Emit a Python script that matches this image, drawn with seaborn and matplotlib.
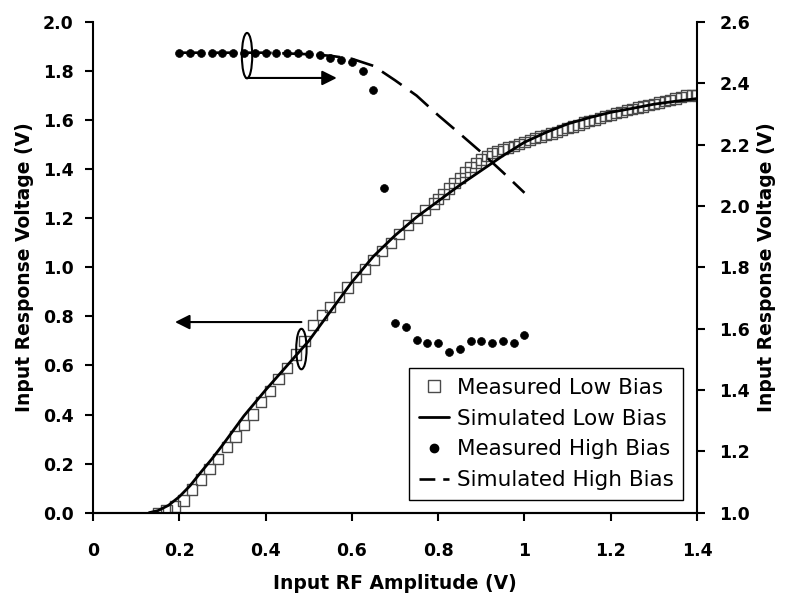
import matplotlib
matplotlib.use("Agg")
import matplotlib.pyplot as plt
from matplotlib.patches import Ellipse
from matplotlib.lines import Line2D
import seaborn as sns
import pandas as pd

# ---------------- data ----------------
meas_low_x = [0.15, 0.17, 0.19, 0.21, 0.23, 0.25, 0.27, 0.29, 0.31, 0.33,
              0.35, 0.37, 0.39, 0.41, 0.43, 0.45, 0.47, 0.49, 0.51, 0.53,
              0.55, 0.57, 0.59, 0.61, 0.63, 0.65, 0.67, 0.69, 0.71, 0.73,
              0.75, 0.77, 0.79, 0.80, 0.8125, 0.825, 0.8375, 0.85, 0.8625,
              0.875, 0.8875, 0.90, 0.9125, 0.925, 0.9375, 0.95, 0.9625, 0.975,
              0.9875, 1.00, 1.0125, 1.025, 1.0375, 1.05, 1.0625, 1.075, 1.0875,
              1.10, 1.1125, 1.125, 1.1375, 1.15, 1.1625, 1.175, 1.1875, 1.20,
              1.2125, 1.225, 1.2375, 1.25, 1.2625, 1.275, 1.2875, 1.30, 1.3125,
              1.325, 1.3375, 1.35, 1.3625, 1.375, 1.3875, 1.40]
meas_low_y = [0.000, 0.010, 0.025, 0.050, 0.095, 0.135, 0.178, 0.218, 0.268, 0.310,
              0.358, 0.400, 0.450, 0.495, 0.545, 0.590, 0.645, 0.700, 0.765, 0.806,
              0.838, 0.878, 0.918, 0.960, 0.993, 1.030, 1.066, 1.100, 1.137, 1.172,
              1.200, 1.233, 1.260, 1.280, 1.300, 1.322, 1.345, 1.365, 1.390,
              1.410, 1.425, 1.440, 1.455, 1.467, 1.475, 1.482, 1.488, 1.496,
              1.504, 1.512, 1.520, 1.527, 1.533, 1.539, 1.546, 1.553, 1.560,
              1.567, 1.574, 1.580, 1.590, 1.596, 1.602, 1.610, 1.617, 1.622,
              1.628, 1.634, 1.640, 1.645, 1.651, 1.656, 1.662, 1.667, 1.672,
              1.678, 1.683, 1.688, 1.694, 1.700, 1.703, 1.700]

sim_low_x = [0.13, 0.15, 0.175, 0.20, 0.225, 0.25, 0.275, 0.30, 0.35, 0.40,
             0.45, 0.50, 0.55, 0.60, 0.65, 0.70, 0.75, 0.80, 0.85, 0.90,
             0.95, 1.00, 1.05, 1.10, 1.15, 1.20, 1.25, 1.30, 1.35, 1.40]
sim_low_y = [0.000, 0.008, 0.030, 0.065, 0.110, 0.165, 0.218, 0.275, 0.395, 0.500,
             0.600, 0.700, 0.820, 0.940, 1.045, 1.130, 1.205, 1.270, 1.335, 1.395,
             1.455, 1.510, 1.550, 1.585, 1.610, 1.632, 1.648, 1.665, 1.677, 1.688]

meas_high_x = [0.20, 0.225, 0.25, 0.275, 0.30, 0.325, 0.35, 0.375, 0.40, 0.425,
               0.45, 0.475, 0.50, 0.525, 0.55, 0.575, 0.60, 0.625, 0.65, 0.675,
               0.70, 0.725, 0.75, 0.775, 0.80, 0.825, 0.85, 0.875, 0.90, 0.925,
               0.95, 0.975, 1.00]
meas_high_y = [2.498, 2.498, 2.498, 2.498, 2.498, 2.498, 2.498, 2.498, 2.498, 2.498,
               2.498, 2.498, 2.496, 2.492, 2.482, 2.476, 2.470, 2.440, 2.378, 2.058,
               1.619, 1.605, 1.563, 1.552, 1.554, 1.523, 1.534, 1.561, 1.561, 1.552,
               1.561, 1.554, 1.579]

sim_high_x = [0.20, 0.30, 0.40, 0.50, 0.55, 0.60, 0.65, 0.70, 0.75, 0.80,
              0.85, 0.90, 0.95, 1.00]
sim_high_y = [2.500, 2.500, 2.500, 2.495, 2.490, 2.480, 2.457, 2.410, 2.360, 2.296,
              2.236, 2.175, 2.110, 2.043]

x_ticks = [0, 0.2, 0.4, 0.6, 0.8, 1.0, 1.2, 1.4]
x_tick_labels = ["0", "0.2", "0.4", "0.6", "0.8", "1", "1.2", "1.4"]
left_ticks = [0.0, 0.2, 0.4, 0.6, 0.8, 1.0, 1.2, 1.4, 1.6, 1.8, 2.0]
right_ticks = [1.0, 1.2, 1.4, 1.6, 1.8, 2.0, 2.2, 2.4, 2.6]

series_names = ["Measured Low Bias", "Simulated Low Bias",
                "Measured High Bias", "Simulated High Bias"]
x_label = "Input RF Amplitude (V)"
y_label = "Input Response Voltage (V)"

# annotation geometry (left-axis data coords)
ell1 = dict(center=(0.357, 1.863), w=0.024, h=0.185)
arrow1 = ((0.355, 1.772), (0.565, 1.772))
ell2 = dict(center=(0.483, 0.667), w=0.024, h=0.165)
arrow2 = ((0.483, 0.777), (0.19, 0.777))

# ---------------- plotting ----------------
sns.set_style("ticks")
plt.rcParams["font.family"] = ["DejaVu Sans"]
plt.rcParams["text.color"] = "black"
plt.rcParams["axes.labelcolor"] = "black"
plt.rcParams["xtick.color"] = "black"
plt.rcParams["ytick.color"] = "black"

fig = plt.figure(figsize=(7.93, 6.05), dpi=100)
ax = fig.add_axes([0.1173, 0.1526, 0.7617, 0.811])
ax2 = ax.twinx()

df_ml = pd.DataFrame({"x": meas_low_x, "y": meas_low_y})
df_sl = pd.DataFrame({"x": sim_low_x, "y": sim_low_y})
df_mh = pd.DataFrame({"x": meas_high_x, "y": meas_high_y})
df_sh = pd.DataFrame({"x": sim_high_x, "y": sim_high_y})

sns.scatterplot(data=df_ml, x="x", y="y", ax=ax, marker="s", s=55,
                facecolor="none", edgecolor="#4a4a4a", linewidth=1.0,
                legend=False, zorder=3)
sns.lineplot(data=df_sl, x="x", y="y", ax=ax, color="black", linewidth=2.0,
             legend=False, zorder=4, estimator=None, sort=True)
sns.scatterplot(data=df_mh, x="x", y="y", ax=ax2, marker="o", s=32,
                color="black", edgecolor="black", linewidth=0.5,
                legend=False, zorder=3)
sns.lineplot(data=df_sh, x="x", y="y", ax=ax2, color="black", linewidth=1.9,
             dashes=False, legend=False, zorder=4, estimator=None)
ax2.lines[-1].set_dashes((9, 4))

ax.set_xlim(0, 1.4)
ax.set_ylim(0, 2.0)
ax2.set_ylim(1.0, 2.6)
ax.set_xticks(x_ticks)
ax.set_xticklabels(x_tick_labels)
ax.set_yticks(left_ticks)
ax.set_yticklabels([f"{t:.1f}" for t in left_ticks])
ax2.set_yticks(right_ticks)
ax2.set_yticklabels([f"{t:.1f}" for t in right_ticks])

for a in (ax, ax2):
    a.spines["top"].set_visible(False)
    for s in ("left", "right", "bottom"):
        a.spines[s].set_linewidth(1.5)
        a.spines[s].set_color("black")
    a.tick_params(axis="both", direction="out", length=6, width=1.5,
                  labelsize=12.5, colors="black")
    for lab in a.get_xticklabels() + a.get_yticklabels():
        lab.set_fontweight("bold")
ax.tick_params(axis="x", pad=15)
ax.tick_params(axis="y", pad=8)
ax2.tick_params(axis="y", pad=10)
ax2.spines["left"].set_visible(False)
ax.spines["right"].set_visible(False)

ax.set_xlabel(x_label, fontsize=13.5, fontweight="bold", labelpad=10)
ax.set_ylabel(y_label, fontsize=13.5, fontweight="bold", labelpad=6)
ax2.set_ylabel(y_label, fontsize=13.5, fontweight="bold", labelpad=5)

# annotations
ax.add_patch(Ellipse(ell1["center"], ell1["w"], ell1["h"], fill=False,
                     edgecolor="black", linewidth=1.5, zorder=5))
ax.add_patch(Ellipse(ell2["center"], ell2["w"], ell2["h"], fill=False,
                     edgecolor="black", linewidth=1.5, zorder=5))
for (start, end) in (arrow1, arrow2):
    ax.annotate("", xy=end, xytext=start, xycoords="data",
                arrowprops=dict(arrowstyle="-|>", mutation_scale=22,
                                color="black", lw=1.5, shrinkA=0, shrinkB=0),
                zorder=5)

# legend
handles = [
    Line2D([], [], linestyle="none", marker="s", markersize=8,
           markerfacecolor="none", markeredgecolor="#4a4a4a", markeredgewidth=1.0),
    Line2D([], [], color="black", linewidth=2.0),
    Line2D([], [], linestyle="none", marker="o", markersize=6, color="black"),
    Line2D([], [], color="black", linewidth=1.9, dashes=(6, 3)),
]
leg = ax2.legend(handles, series_names, loc="lower right",
                 bbox_to_anchor=(0.977, 0.026), fontsize=15.5, frameon=True,
                 fancybox=False, framealpha=1, edgecolor="black",
                 handlelength=1.4, handletextpad=0.35, borderpad=0.45,
                 labelspacing=0.5, borderaxespad=0)
leg.get_frame().set_linewidth(1.0)
leg.set_zorder(10)

fig.savefig("out.png", dpi=100)
